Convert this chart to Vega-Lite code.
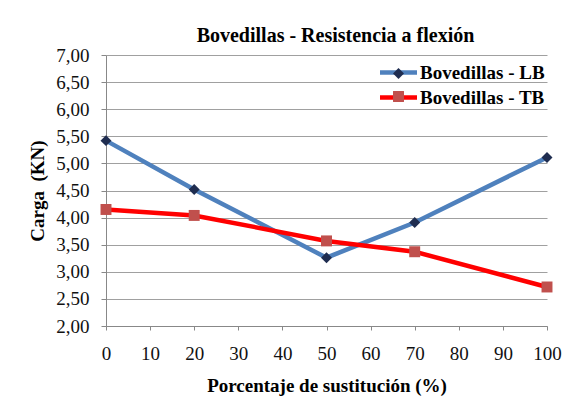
{
  "$schema": "https://vega.github.io/schema/vega-lite/v6.json",
  "width": 441,
  "height": 271,
  "autosize": {"type": "none"},
  "padding": {"left": 106, "top": 55, "right": 32, "bottom": 70},
  "background": "white",
  "title": {"text": "Bovedillas - Resistencia a flexión", "font": "Liberation Serif", "fontSize": 20, "fontWeight": "bold", "color": "#000000", "anchor": "middle", "dx": 9, "offset": 0},
  "config": {"view": {"stroke": null}, "font": "Liberation Serif"},
  "data": {"values": [
    {"serie": "Bovedillas - LB", "pct": 0, "carga": 5.42},
    {"serie": "Bovedillas - LB", "pct": 20, "carga": 4.52},
    {"serie": "Bovedillas - LB", "pct": 50, "carga": 3.26},
    {"serie": "Bovedillas - LB", "pct": 70, "carga": 3.91},
    {"serie": "Bovedillas - LB", "pct": 100, "carga": 5.11},
    {"serie": "Bovedillas - TB", "pct": 0, "carga": 4.15},
    {"serie": "Bovedillas - TB", "pct": 20, "carga": 4.04},
    {"serie": "Bovedillas - TB", "pct": 50, "carga": 3.57},
    {"serie": "Bovedillas - TB", "pct": 70, "carga": 3.37},
    {"serie": "Bovedillas - TB", "pct": 100, "carga": 2.72}
  ]},
  "encoding": {
    "x": {"field": "pct", "type": "quantitative", "scale": {"domain": [0, 100], "nice": false},
      "axis": {"values": [0, 10, 20, 30, 40, 50, 60, 70, 80, 90, 100], "grid": false, "domainColor": "#888888", "tickColor": "#888888", "tickSize": 4, "labelPadding": 14, "labelFont": "Liberation Serif", "labelFontWeight": "normal", "labelFontSize": 19, "labelColor": "#111111", "labelFlush": false, "title": "Porcentaje de sustitución (%)", "titleFont": "Liberation Serif", "titleFontSize": 19, "titleFontWeight": "bold", "titleColor": "#000000", "titlePadding": 13}},
    "y": {"field": "carga", "type": "quantitative", "scale": {"domain": [2, 7], "nice": false, "zero": false},
      "axis": {"values": [2, 2.5, 3, 3.5, 4, 4.5, 5, 5.5, 6, 6.5, 7], "format": ".2f", "labelExpr": "replace(datum.label, '.', ',')", "grid": true, "gridColor": "#a0a0a0", "domainColor": "#888888", "tickColor": "#888888", "tickSize": 5, "labelPadding": 12, "labelFont": "Liberation Serif", "labelFontWeight": "normal", "labelFontSize": 19, "labelColor": "#111111", "title": "Carga \u00a0(KN)", "titleFont": "Liberation Serif", "titleFontSize": 19, "titleFontWeight": "bold", "titleColor": "#000000", "titlePadding": 8}}
  },
  "layer": [
    {
      "mark": {"type": "line", "strokeWidth": 4.5},
      "encoding": {
        "stroke": {"field": "serie", "type": "nominal",
          "scale": {"domain": ["Bovedillas - LB", "Bovedillas - TB"], "range": ["#4F81BD", "#FF0000"]},
          "legend": {"orient": "none", "legendX": 283, "legendY": 8, "title": null, "padding": 0, "symbolType": "M-3.7,0H3.7", "symbolSize": 100, "symbolStrokeWidth": 4.5, "symbolFillColor": "transparent", "labelFont": "Liberation Serif", "labelFontSize": 19, "labelFontWeight": "bold", "labelColor": "#000000", "labelOffset": 12, "rowPadding": 5}}
      }
    },
    {
      "mark": {"type": "point", "filled": true, "opacity": 1, "size": 120},
      "encoding": {
        "fill": {"field": "serie", "type": "nominal",
          "scale": {"range": ["#1F2D50", "#C0504D"]},
          "legend": {"orient": "none", "legendX": 283, "legendY": 9, "title": null, "padding": 0, "symbolSize": 120, "symbolStrokeWidth": 0, "labelExpr": "''", "labelFontSize": 19, "rowPadding": 3}},
        "shape": {"field": "serie", "type": "nominal",
          "scale": {"range": ["diamond", "square"]},
          "legend": {"orient": "none", "legendX": 283, "legendY": 9, "title": null, "padding": 0, "symbolSize": 120, "symbolStrokeWidth": 0, "labelExpr": "''", "labelFontSize": 19, "rowPadding": 3}}
      }
    }
  ]
}
